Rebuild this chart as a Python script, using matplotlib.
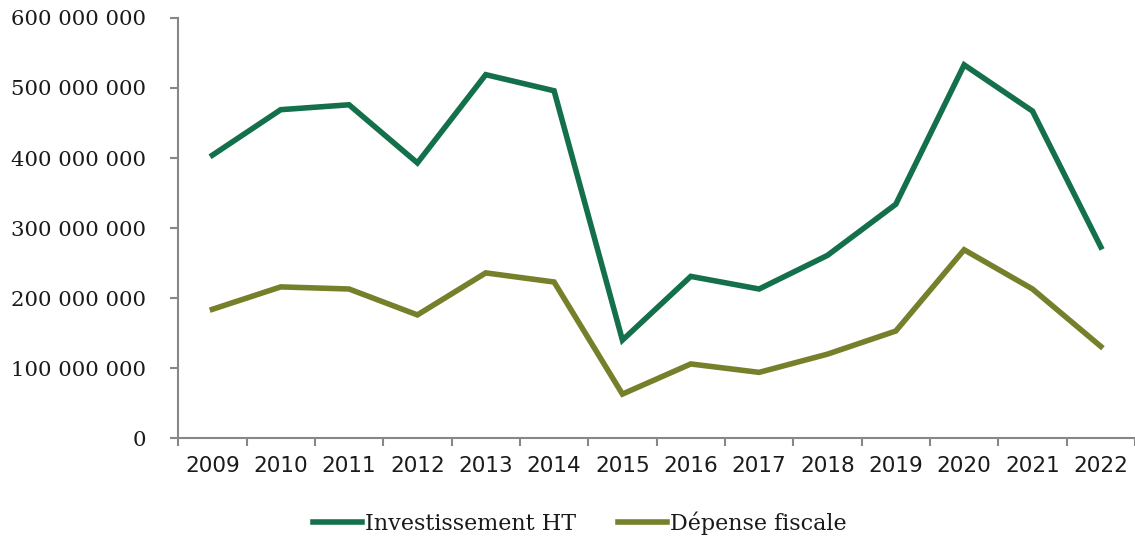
import matplotlib
matplotlib.use("Agg")
import matplotlib.pyplot as plt
from matplotlib.ticker import FuncFormatter, FixedLocator
import numpy as np

# données annuelles
annees = ["2009", "2010", "2011", "2012", "2013", "2014", "2015",
          "2016", "2017", "2018", "2019", "2020", "2021", "2022"]
investissement_ht = [404e6, 469e6, 476e6, 393e6, 519e6, 496e6, 140e6,
                     231e6, 213e6, 261e6, 334e6, 533e6, 467e6, 273e6]
depense_fiscale = [184e6, 216e6, 213e6, 176e6, 236e6, 223e6, 63e6,
                   106e6, 94e6, 120e6, 153e6, 269e6, 213e6, 131e6]

vert = "#13704a"
olive = "#76802a"
gris = "#878787"

fig = plt.figure(figsize=(11.35, 5.43), dpi=100)
ax = fig.add_axes([0.157, 0.193, 0.843, 0.774])

x = np.arange(len(annees))
ax.plot(x, investissement_ht, color=vert, lw=4, solid_joinstyle="miter",
        label="Investissement HT")
ax.plot(x, depense_fiscale, color=olive, lw=4, solid_joinstyle="miter",
        label="Dépense fiscale")

ax.set_xlim(-0.5, len(annees) - 0.5)
ax.set_ylim(0, 600e6)
ax.set_yticks(np.arange(0, 600e6 + 1, 100e6))
ax.yaxis.set_major_formatter(
    FuncFormatter(lambda v, p: f"{int(v):,}".replace(",", " ")))

# graduations aux limites des catégories, étiquettes au centre
ax.xaxis.set_major_locator(FixedLocator(np.arange(-0.5, len(annees), 1.0)))
ax.xaxis.set_minor_locator(FixedLocator(x))
ax.set_xticklabels([], minor=False)
ax.set_xticklabels(annees, minor=True)
ax.tick_params(axis="x", which="minor", length=0, pad=13)
ax.tick_params(axis="x", which="major", length=6, width=1.5, color=gris)
ax.tick_params(axis="y", length=6, width=1.5, color=gris, pad=17)

for lab in ax.get_xticklabels(minor=True):
    lab.set_fontfamily("DejaVu Sans")
    lab.set_fontsize(15.5)
    lab.set_color("#1a1a1a")
for lab in ax.get_yticklabels():
    lab.set_fontfamily("DejaVu Serif")
    lab.set_fontsize(15.3)
    lab.set_color("#1a1a1a")

for s in ["top", "right"]:
    ax.spines[s].set_visible(False)
for s in ["left", "bottom"]:
    ax.spines[s].set_color(gris)
    ax.spines[s].set_linewidth(1.5)

leg = fig.legend(loc="center", bbox_to_anchor=(0.511, 0.037), ncol=2,
                 frameon=False, handlelength=2.2, handletextpad=0.12,
                 columnspacing=1.9, borderpad=0.0,
                 prop={"family": "DejaVu Serif", "size": 16})
for t in leg.get_texts():
    t.set_color("#1a1a1a")

fig.savefig("out.png", dpi=100)
